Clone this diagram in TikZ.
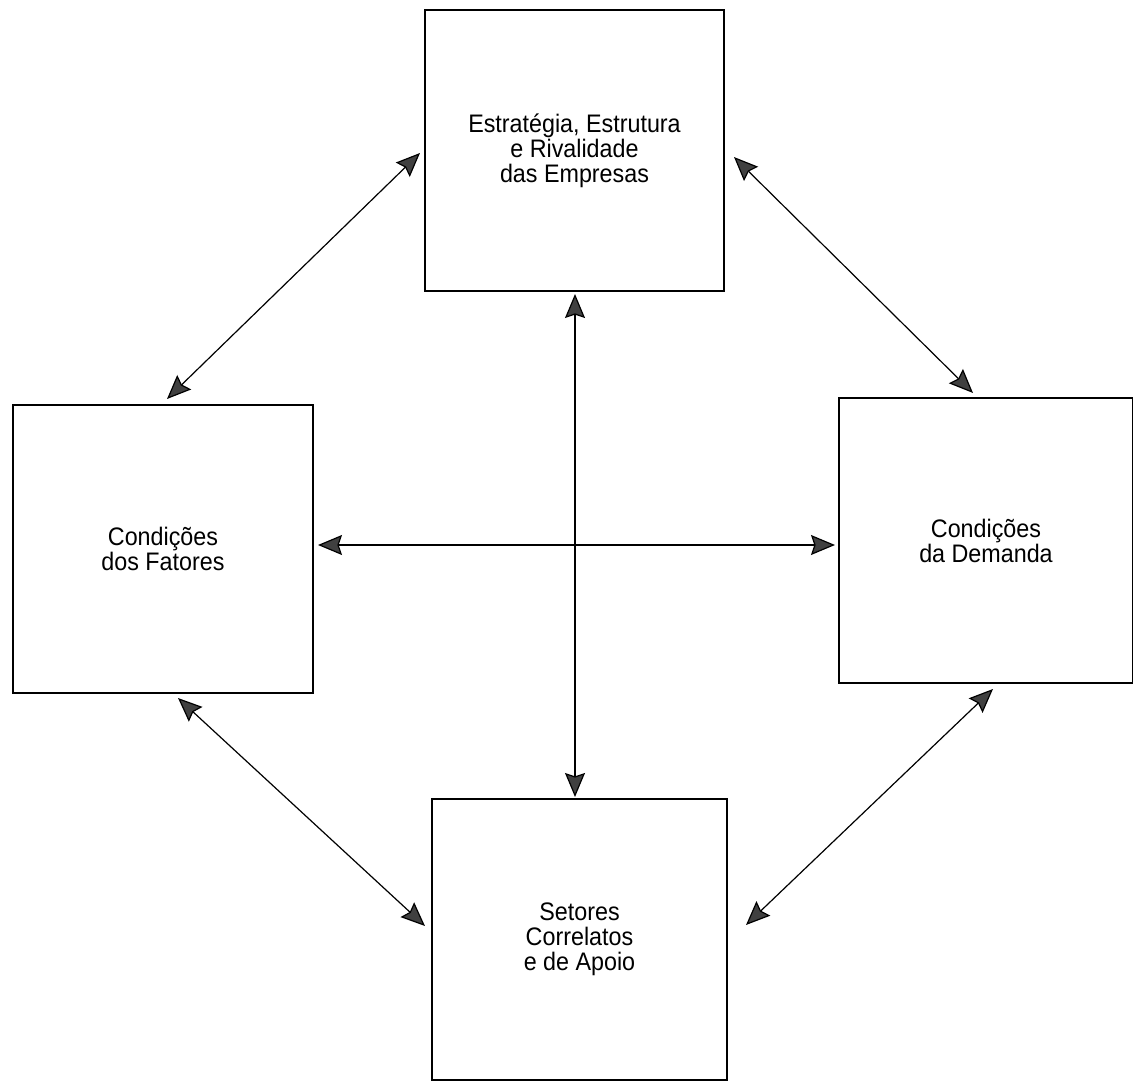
\documentclass[tikz,border=0pt]{standalone}
\usepackage{fontspec}
\setmainfont[FakeStretch=0.92]{Liberation Sans}
\usetikzlibrary{arrows.meta}
\begin{document}
\begin{tikzpicture}[x=0.75pt,y=-0.75pt,
  box/.style={draw, line width=1.1pt, inner sep=0pt, outer sep=0pt, align=center,
    font=\fontsize{19pt}{18.75pt}\selectfont},
  biarrow/.style={line width=0.9pt, {Stealth[length=18pt,width=15pt,inset=2.5pt,fill=black!75]}-{Stealth[length=18pt,width=15pt,inset=2.5pt,fill=black!75]}}]
\useasboundingbox (0,0) rectangle (1133,1084);
\fill[white] (0,0) rectangle (1133,1084);
% boxes
\node[box, minimum width=224.25pt, minimum height=210.75pt] (esr) at (574.5,150.5)
  {Estratégia, Estrutura\\e Rivalidade\\das Empresas};
\node[box, minimum width=225pt, minimum height=216pt] (fat) at (163,549)
  {Condições\\dos Fatores};
\node[box, minimum width=220.5pt, minimum height=213.75pt] (dem) at (986,540.5)
  {Condições\\da Demanda};
\node[box, minimum width=221.25pt, minimum height=210.75pt] (set) at (579.5,939.5)
  {Setores\\Correlatos\\e de Apoio};
% arrow end points
\coordinate (esrL) at (420,153);
\coordinate (fatT) at (167,399);
\coordinate (esrR) at (734,157);
\coordinate (demT) at (973,393);
\coordinate (esrB) at (575,294);
\coordinate (setT) at (575,797);
\coordinate (fatR) at (318,545);
\coordinate (demL) at (835,545);
\coordinate (fatB) at (178,698);
\coordinate (setL) at (425,926);
\coordinate (demB) at (993,689);
\coordinate (setR) at (746,925);
% connectors
\draw[biarrow] (esrL) -- (fatT);
\draw[biarrow] (esrR) -- (demT);
\draw[biarrow] (esrB) -- (setT);
\draw[biarrow] (fatR) -- (demL);
\draw[biarrow] (fatB) -- (setL);
\draw[biarrow] (demB) -- (setR);
\end{tikzpicture}
\end{document}
